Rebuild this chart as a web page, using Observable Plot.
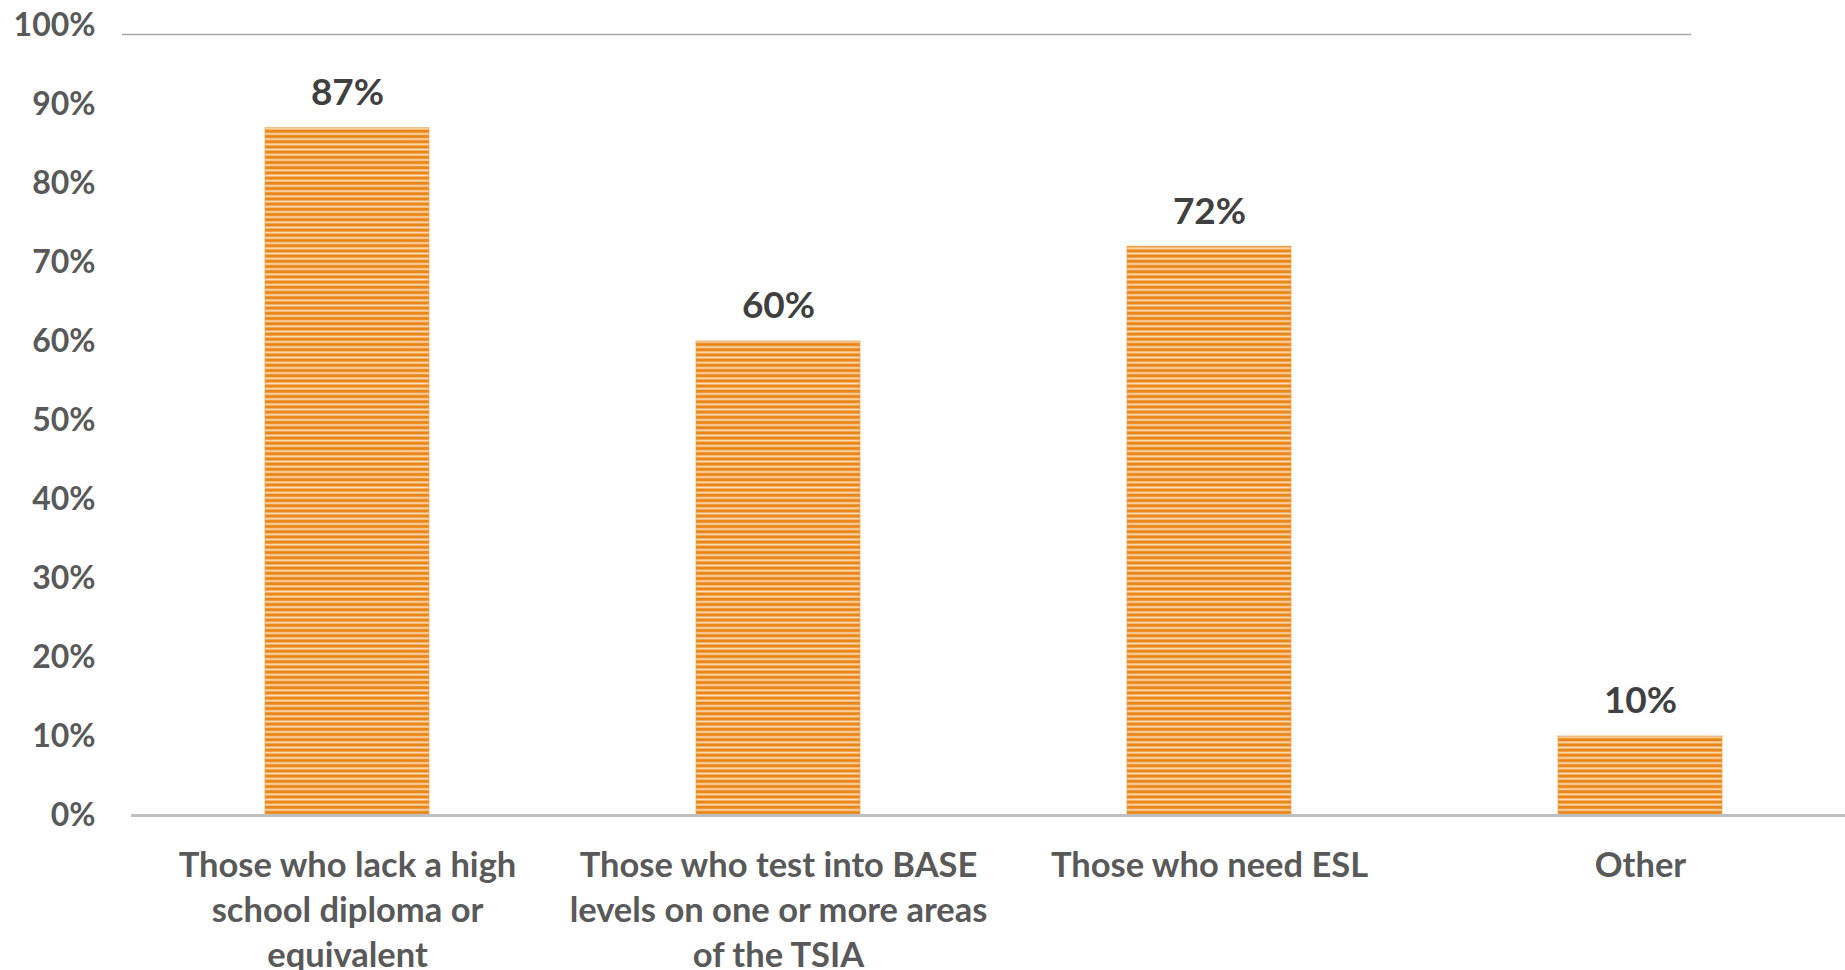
<!DOCTYPE html>
<html>
<head>
<meta charset="utf-8">
<script src="https://cdn.jsdelivr.net/npm/d3@7"></script>
<script src="https://cdn.jsdelivr.net/npm/@observablehq/plot@0.6"></script>
<style>
  html, body { margin: 0; padding: 0; background: #fff; overflow: hidden; }
  #chart svg { display: block; }
</style>
</head>
<body>
<div id="chart"></div>
<script>
const categories = [
  "Those who lack a high school diploma or equivalent",
  "Those who test into BASE levels on one or more areas of the TSIA",
  "Those who need ESL",
  "Other"
];
const values = [87, 60, 72, 10];
const tickLabels = [
  "Those who lack a high\nschool diploma or\nequivalent",
  "Those who test into BASE\nlevels on one or more areas\nof the TSIA",
  "Those who need ESL",
  "Other"
];
const yTicks = [0, 10, 20, 30, 40, 50, 60, 70, 80, 90, 100];

const data = categories.map((c, i) => ({category: c, value: values[i], label: tickLabels[i]}));

const W = 1845, H = 970;
const font = "Lato, 'Open Sans', sans-serif";

const plot = Plot.plot({
  width: W,
  height: H,
  marginLeft: 131,
  marginRight: 0,
  marginTop: 25,
  marginBottom: 155,
  style: {fontFamily: font, background: "white", overflow: "visible"},
  x: {domain: categories, range: [131, 1856], paddingInner: 0.62, paddingOuter: 0.31, axis: null},
  y: {domain: [0, 100], axis: null},
  marks: [
    () => {
      const ns = "http://www.w3.org/2000/svg";
      const defs = document.createElementNS(ns, "defs");
      defs.innerHTML = `
        <pattern id="stripes" patternUnits="userSpaceOnUse" x="0" y="0" width="10" height="5.2">
          <rect x="0" y="0" width="10" height="5.2" fill="#FBDDB9"/>
          <rect x="0" y="0" width="10" height="2.6" fill="#EB8718"/>
          <rect x="0" y="2.6" width="10" height="0.6" fill="#F2A957"/>
          <rect x="0" y="4.6" width="10" height="0.6" fill="#F2A957"/>
        </pattern>`;
      return defs;
    },
    Plot.axisY({
      ticks: yTicks,
      tickFormat: d => d + "%",
      tickSize: 0,
      tickPadding: 36,
      fontSize: 32,
      fontWeight: "bold",
      fill: "#595959",
      label: null
    }),
    Plot.barY(data, {
      x: "category",
      y: "value",
      fill: "url(#stripes)",
      stroke: "#F0A04A",
      strokeWidth: 1,
      strokeOpacity: 0.7
    }),
    Plot.ruleY([0], {stroke: "#BFBFBF", strokeWidth: 3}),
    Plot.text(data, {
      x: "category",
      y: "value",
      text: d => d.value + "%",
      dy: -35,
      fontSize: 37,
      fontWeight: "bold",
      fill: "#404040"
    }),
    Plot.text(data, {
      x: "category",
      y: 0,
      text: "label",
      lineAnchor: "top",
      dy: 29,
      lineHeight: 1.31,
      fontSize: 34.5,
      fontWeight: "bold",
      fill: "#595959"
    })
  ]
});

// thin top border line (as in the original chart area)
const yScale = plot.scale("y");
const topRuleValue = 98.8;
d3.select(plot).append("line")
  .attr("x1", 122).attr("x2", 1691)
  .attr("y1", yScale.apply(topRuleValue)).attr("y2", yScale.apply(topRuleValue))
  .attr("stroke", "#A6A6A6").attr("stroke-width", 1.5);

document.getElementById("chart").appendChild(plot);
</script>
</body>
</html>
